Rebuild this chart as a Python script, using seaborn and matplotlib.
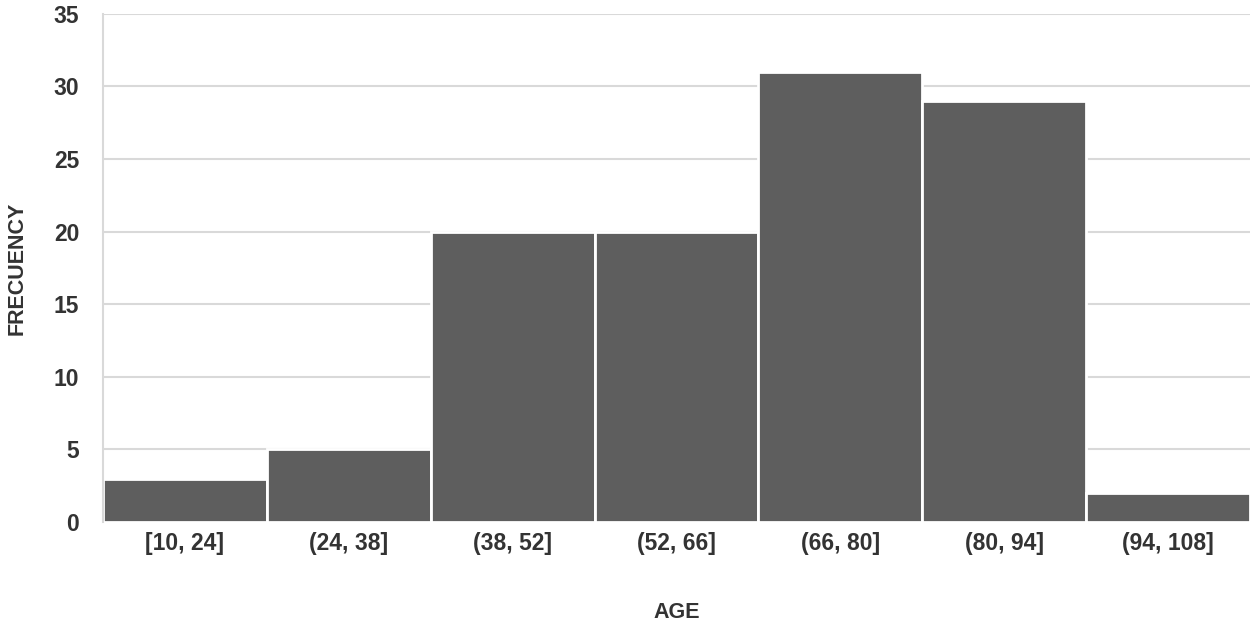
import pandas as pd
import seaborn as sns
import matplotlib.pyplot as plt

# data
age_bins = ["[10, 24]", "(24, 38]", "(38, 52]", "(52, 66]", "(66, 80]", "(80, 94]", "(94, 108]"]
frequency = [3, 5, 20, 20, 31, 29, 2]

df = pd.DataFrame({"AGE": age_bins, "FRECUENCY": frequency})

sns.set_theme(style="white")
plt.rcParams["font.family"] = ["Liberation Sans", "DejaVu Sans"]

fig = plt.figure(figsize=(12.55, 6.29), dpi=100)
ax = fig.add_axes([0.082, 0.170, 0.914, 0.808])

ax.set_axisbelow(True)
ax.yaxis.grid(True, color="#d9d9d9", linewidth=1.5)
sns.barplot(data=df, x="AGE", y="FRECUENCY", color="#5e5e5e", saturation=1,
            width=1.0, edgecolor="white", linewidth=2, ax=ax)

ax.set_ylim(0, 35)
ax.set_yticks(range(0, 36, 5))
ax.set_xlim(-0.5, len(age_bins) - 0.5)
for s in ["top", "right", "bottom"]:
    ax.spines[s].set_visible(False)
ax.spines["left"].set_color("#d9d9d9")
ax.spines["left"].set_linewidth(1.5)

ax.tick_params(axis="y", labelsize=16.5, pad=17, length=0, colors="#333333")
ax.tick_params(axis="x", labelsize=16.5, pad=7, length=0, colors="#333333")
for lab in ax.get_xticklabels() + ax.get_yticklabels():
    lab.set_fontweight("bold")

ax.set_xlabel("AGE", fontsize=15.5, fontweight="bold", color="#333333", labelpad=34)
ax.set_ylabel("FRECUENCY", fontsize=15.5, fontweight="bold", color="#333333", labelpad=19)

plt.savefig("out.png", dpi=100)
